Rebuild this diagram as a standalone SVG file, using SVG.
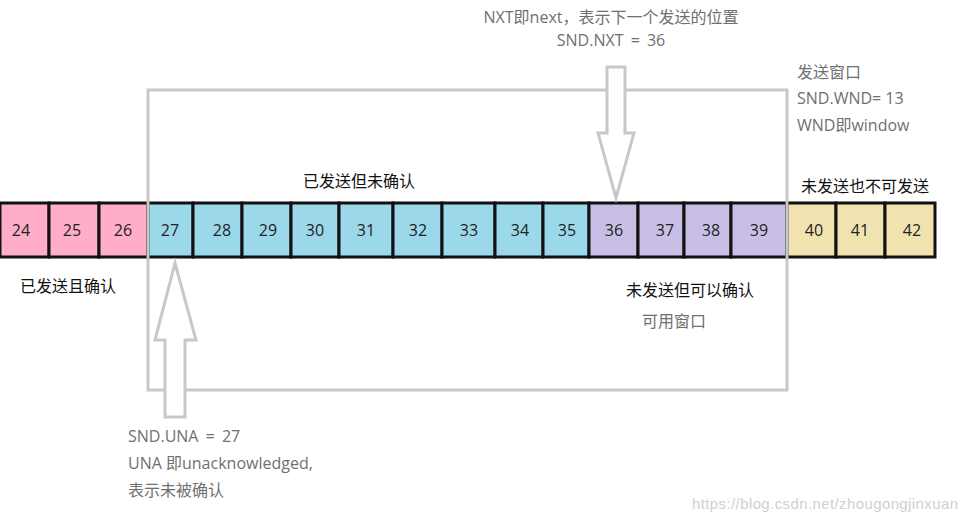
<svg xmlns="http://www.w3.org/2000/svg" width="967" height="523" viewBox="0 0 967 523">
<style>
text{font-family:"Open Sans","Noto Sans CJK SC",sans-serif;font-size:16px}
.g{fill:#707070}
.k{fill:#111}
.n{fill:#222;text-anchor:middle}
.c{stroke:#111;stroke-width:3}
.p{fill:#ffadc9}.b{fill:#9bd9ea}.v{fill:#c9bfe6}.y{fill:#f0e3b0}
.w{fill:none;stroke:#c8c8c8;stroke-width:3}
.a{fill:#fff;stroke:#c8c8c8;stroke-width:3;stroke-linejoin:miter}
</style>
<rect width="967" height="523" fill="#fff"/>
<g id="cells">
<rect class="p c" x="0" y="203" width="49" height="54"/>
<rect class="p c" x="49" y="203" width="50" height="54"/>
<rect class="p c" x="99" y="203" width="49" height="54"/>
<rect class="b c" x="148" y="203" width="45" height="54"/>
<rect class="b c" x="193" y="203" width="49" height="54"/>
<rect class="b c" x="242" y="203" width="49" height="54"/>
<rect class="b c" x="291" y="203" width="48" height="54"/>
<rect class="b c" x="339" y="203" width="54" height="54"/>
<rect class="b c" x="393" y="203" width="49" height="54"/>
<rect class="b c" x="442" y="203" width="53" height="54"/>
<rect class="b c" x="495" y="203" width="48" height="54"/>
<rect class="b c" x="543" y="203" width="46" height="54"/>
<rect class="v c" x="589" y="203" width="49" height="54"/>
<rect class="v c" x="638" y="203" width="46" height="54"/>
<rect class="v c" x="684" y="203" width="47" height="54"/>
<rect class="v c" x="731" y="203" width="56" height="54"/>
<rect class="y c" x="787" y="203" width="49" height="54"/>
<rect class="y c" x="836" y="203" width="49" height="54"/>
<rect class="y c" x="885" y="203" width="50" height="54"/>
<text class="n" x="21" y="236">24</text>
<text class="n" x="72" y="236">25</text>
<text class="n" x="123" y="236">26</text>
<text class="n" x="170" y="236">27</text>
<text class="n" x="222" y="236">28</text>
<text class="n" x="268" y="236">29</text>
<text class="n" x="315" y="236">30</text>
<text class="n" x="366" y="236">31</text>
<text class="n" x="418" y="236">32</text>
<text class="n" x="469" y="236">33</text>
<text class="n" x="520" y="236">34</text>
<text class="n" x="567" y="236">35</text>
<text class="n" x="614" y="236">36</text>
<text class="n" x="665" y="236">37</text>
<text class="n" x="711" y="236">38</text>
<text class="n" x="759" y="236">39</text>
<text class="n" x="814" y="236">40</text>
<text class="n" x="860" y="236">41</text>
<text class="n" x="912" y="236">42</text>
</g>
<g id="window">
<rect class="w" x="148" y="90" width="639" height="300"/>
</g>
<g id="connectors">
<polygon class="a" points="607,67 625,67 625,133 634,133 616,198 598,133 607,133"/>
<polygon class="a" points="175,263 196,340 185,340 185,417 165,417 165,340 155,340"/>
</g>
<g id="labels">
<text class="g" x="611" y="23" text-anchor="middle">NXT即next，表示下一个发送的位置</text>
<text class="g" x="611" y="46" text-anchor="middle" word-spacing="3">SND.NXT = 36</text>
<text class="g" x="797" y="78">发送窗口</text>
<text class="g" x="797" y="104">SND.WND= 13</text>
<text class="g" x="797" y="131">WND即window</text>
<text class="k" x="801" y="192">未发送也不可发送</text>
<text class="k" x="303" y="187">已发送但未确认</text>
<text class="k" x="20" y="292">已发送且确认</text>
<text class="k" x="626" y="296">未发送但可以确认</text>
<text class="g" x="642" y="327">可用窗口</text>
<text class="g" x="128" y="442" word-spacing="3">SND.UNA = 27</text>
<text class="g" x="128" y="469">UNA 即unacknowledged,</text>
<text class="g" x="128" y="496">表示未被确认</text>
<text x="692" y="509" textLength="266" style="fill:#d0d0d0;font-family:'Liberation Sans',Arial,sans-serif;font-size:15px">https://blog.csdn.net/zhougongjinxuan</text>
</g>
</svg>
